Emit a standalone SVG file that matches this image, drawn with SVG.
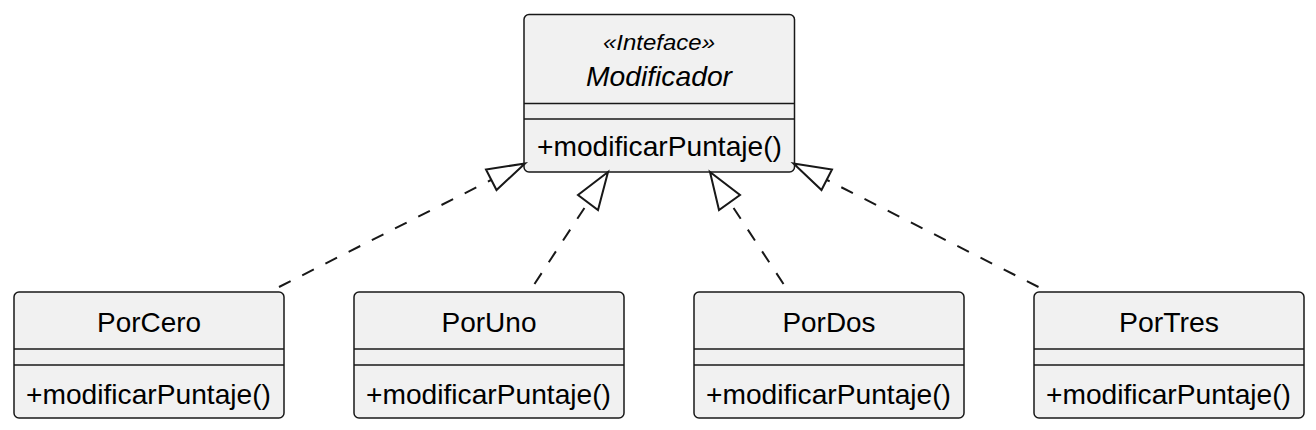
<svg xmlns="http://www.w3.org/2000/svg" width="1316" height="430" viewBox="0 0 1316 430">
<style>
.box{fill:#F1F1F1;stroke:#181818;stroke-width:1.5}
.sep{stroke:#181818;stroke-width:1.5}
.t{font-family:"Liberation Sans",Arial,sans-serif;font-size:28px;fill:#000;text-anchor:middle}
.m{font-family:"Liberation Sans",Arial,sans-serif;font-size:28px;fill:#000}
.i{font-style:italic}
.st{font-size:22px}
.dash{fill:none;stroke:#181818;stroke-width:2;stroke-dasharray:13,13}
.head{fill:#FFFFFF;stroke:#181818;stroke-width:2}
</style>
<rect width="1316" height="430" fill="#FFFFFF"/>
<g id="Modificador">
<rect class="box" x="524" y="14.5" width="270.5" height="157.5" rx="5"/>
<text class="t i st" x="659" y="49.5" textLength="112" lengthAdjust="spacingAndGlyphs">«Inteface»</text>
<text class="t i" x="659" y="86" textLength="146" lengthAdjust="spacingAndGlyphs">Modificador</text>
<line class="sep" x1="524" y1="103.5" x2="794.5" y2="103.5"/>
<line class="sep" x1="524" y1="119" x2="794.5" y2="119"/>
<text class="m" x="537" y="155.5" textLength="245" lengthAdjust="spacingAndGlyphs">+modificarPuntaje()</text>
</g>
<g id="PorCero">
<rect class="box" x="14" y="292" width="270" height="126" rx="5"/>
<text class="t" x="149" y="332" textLength="104" lengthAdjust="spacingAndGlyphs">PorCero</text>
<line class="sep" x1="14" y1="349" x2="284" y2="349"/>
<line class="sep" x1="14" y1="365" x2="284" y2="365"/>
<text class="m" x="26" y="403.5" textLength="245" lengthAdjust="spacingAndGlyphs">+modificarPuntaje()</text>
</g>
<g id="PorUno">
<rect class="box" x="354" y="292" width="270" height="126" rx="5"/>
<text class="t" x="489" y="332" textLength="95" lengthAdjust="spacingAndGlyphs">PorUno</text>
<line class="sep" x1="354" y1="349" x2="624" y2="349"/>
<line class="sep" x1="354" y1="365" x2="624" y2="365"/>
<text class="m" x="366" y="403.5" textLength="245" lengthAdjust="spacingAndGlyphs">+modificarPuntaje()</text>
</g>
<g id="PorDos">
<rect class="box" x="694" y="292" width="270" height="126" rx="5"/>
<text class="t" x="829" y="332" textLength="93" lengthAdjust="spacingAndGlyphs">PorDos</text>
<line class="sep" x1="694" y1="349" x2="964" y2="349"/>
<line class="sep" x1="694" y1="365" x2="964" y2="365"/>
<text class="m" x="706" y="403.5" textLength="245" lengthAdjust="spacingAndGlyphs">+modificarPuntaje()</text>
</g>
<g id="PorTres">
<rect class="box" x="1034" y="292" width="270" height="126" rx="5"/>
<text class="t" x="1169" y="332" textLength="100" lengthAdjust="spacingAndGlyphs">PorTres</text>
<line class="sep" x1="1034" y1="349" x2="1304" y2="349"/>
<line class="sep" x1="1034" y1="365" x2="1304" y2="365"/>
<text class="m" x="1046" y="403.5" textLength="245" lengthAdjust="spacingAndGlyphs">+modificarPuntaje()</text>
</g>
<g id="connectors">
<path class="dash" d="M279,287 L491,180"/>
<polygon class="head" points="525,163.5 486,169.5 496.5,190"/>
<path class="dash" d="M534.5,284 L588,202.5"/>
<polygon class="head" points="608,172 578,195 598,210"/>
<path class="dash" d="M783.5,284 L730,202.5"/>
<polygon class="head" points="710,172 719,210 740,195"/>
<path class="dash" d="M1038.5,287 L827,180"/>
<polygon class="head" points="793.5,163.5 832,169.5 821.5,190"/>
</g>
</svg>
